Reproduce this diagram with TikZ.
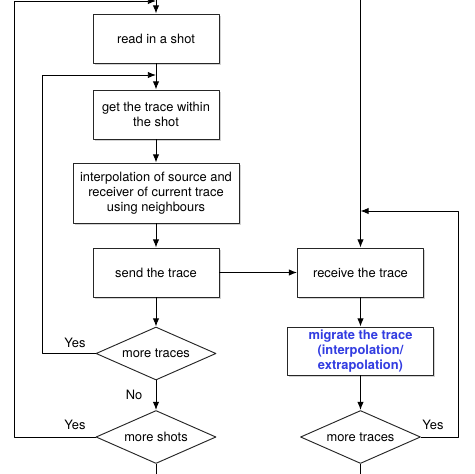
\documentclass[tikz,border=0pt]{standalone}
\usepackage{fontspec}
\setmainfont{TeX Gyre Heros}
\usetikzlibrary{shapes.geometric,shadows,arrows.meta}
\definecolor{migblue}{RGB}{50,60,225}
\begin{document}
\begin{tikzpicture}[line join=round, >={Latex[length=7pt,width=5.5pt]}, x=0.03cm, y=-0.03cm, font=\fontsize{11}{13}\selectfont]
    \tikzset{box/.style={draw=black!85, thick, fill=white, align=center, inner sep=2pt,
            drop shadow={opacity=0.35, shadow xshift=1.5pt, shadow yshift=-1.5pt}},
        decision/.style={diamond, draw=black!85, thick, fill=white, inner sep=0pt,
            shape aspect=2.26, minimum width=3.6cm, minimum height=1.59cm},
        link/.style={thick}}
    \def \xl{156}
    \def \xr{360.5}
    \useasboundingbox (0,0) rectangle (474,474);
    \clip (0,0) rectangle (474,474);
    \node[box, minimum width=3.78cm, minimum height=1.47cm] (read) at (\xl,38.5) {read in a shot};
    \node[box, minimum width=3.78cm, minimum height=1.47cm] (trace) at (\xl,114.5) {get the trace within\\the shot};
    \node[box, minimum width=4.98cm, minimum height=1.8cm] (interp) at (\xl,193) {interpolation of source and\\receiver of current trace\\using neighbours};
    \node[box, minimum width=3.78cm, minimum height=1.47cm] (send) at (\xl,272.5) {send the trace};
    \node[box, minimum width=3.78cm, minimum height=1.47cm] (recv) at (\xr,272.5) {receive the trace};
    \node[box, minimum width=4.38cm, minimum height=1.44cm, text=migblue, font=\fontsize{11}{13}\selectfont\bfseries] (migrate) at (\xr,351) {migrate the trace\\(interpolation/\\extrapolation)};
    \node[decision] (moretr) at (\xl,353.5) {more traces};
    \node[decision] (moreshot) at (\xl,437) {more shots};
    \node[decision] (moretrR) at (\xr,437) {more traces};
    \coordinate (inL) at (\xl,-6);
    \coordinate (inR) at (\xr,-6);
    \coordinate (outL) at (\xl,480);
    \coordinate (outR) at (\xr,480);
    \coordinate (loopA) at (14,1);
    \coordinate (joinA) at (\xl,1);
    \coordinate (loopB) at (42,75);
    \coordinate (joinB) at (\xl,75);
    \coordinate (loopC) at (458,211);
    \coordinate (joinC) at (\xr,211);
    \draw[link,->] (inL) -- (read);
    \draw[link,->] (read) -- (trace);
    \draw[link,->] (trace) -- (interp);
    \draw[link,->] (interp) -- (send);
    \draw[link,->] (send) -- (recv);
    \draw[link,->] (send) -- (moretr);
    \draw[link,->] (moretr) -- (moreshot);
    \draw[link] (moreshot) -- (outL);
    \draw[link,->] (moretr.west) -| (loopB) -- (joinB);
    \draw[link,->] (moreshot.west) -| (loopA) -- (joinA);
    \draw[link,->] (inR) -- (recv);
    \draw[link,->] (recv) -- (migrate);
    \draw[link,->] (migrate) -- (moretrR);
    \draw[link] (moretrR) -- (outR);
    \draw[link,->] (moretrR.east) -| (loopC) -- (joinC);
    \node (yesB) at (75,343) {Yes};
    \node (no) at (134,395) {No};
    \node (yesA) at (75,425) {Yes};
    \node (yesC) at (433,425) {Yes};
\end{tikzpicture}
\end{document}
